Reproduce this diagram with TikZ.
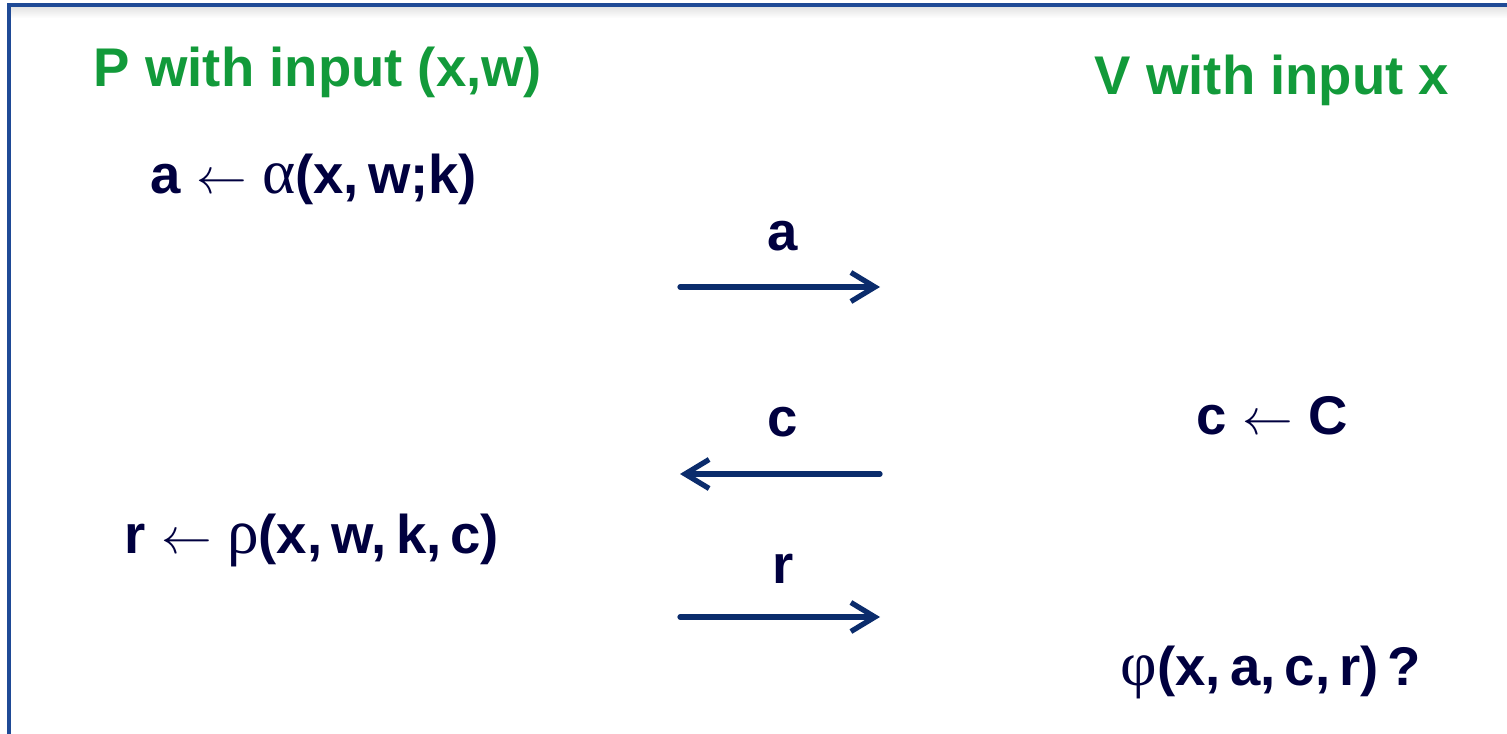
\documentclass[tikz,border=0pt]{standalone}
\usepackage{fontspec}
\setmainfont{Liberation Sans}
\newfontfamily\grk{Liberation Serif}
\usepackage{tikz}
\usetikzlibrary{arrows.meta,positioning}
\definecolor{proofgreen}{HTML}{129A3A}
\definecolor{msgnavy}{HTML}{00003F}
\definecolor{arrnavy}{HTML}{0B2C6C}
\definecolor{framblue}{HTML}{1F4A96}
\newcommand{\assign}{\hspace{0.28em}\(\leftarrow\)\hspace{0.28em}}
\newcommand{\gk}[1]{{\grk\mdseries\fontsize{18}{18}\selectfont #1}}

\begin{document}
\begin{tikzpicture}[x=0.01cm,y=-0.01cm,
  title/.style={anchor=base,inner sep=0pt,text=proofgreen,
    font=\fontsize{15.5}{18}\selectfont\bfseries},
  calc/.style={anchor=base,inner sep=0pt,text=msgnavy,
    font=\fontsize{15.5}{18}\selectfont\bfseries},
  msg/.style={-{Straight Barb[length=2.4mm,width=2.9mm]},line width=1.5pt,
    draw=arrnavy,line cap=round}]
\useasboundingbox (0,0) rectangle (1507,734);
% frame
\shade[top color=black!12,bottom color=white] (10,6) rectangle (1507,18);
\draw[framblue,line width=1.4pt] (9,734) -- (9,5) -- (1507,5);
% parties
\node[title] (prover) at (318,87) {P with input (x,w)};
\node[title] (verifier) at (1272,95) {V with input x};
% local steps
\node[calc] (commit) at (314,194) {a\assign\gk{α}(x,\,w;k)};
\node[calc] (chal) at (1272,435) {c\assign C};
\node[calc] (resp) at (312,553) {r\assign\gk{ρ}(x,\,w,\,k,\,c)};
\node[calc] (check) at (1271,685) {\gk{φ}(x,\,a,\,c,\,r)\,?};
% messages
\coordinate (a1) at (680,287);
\coordinate (a2) at (880,287);
\coordinate (c1) at (880,474);
\coordinate (c2) at (680,474);
\coordinate (r1) at (680,617);
\coordinate (r2) at (880,617);
\draw[msg] (a1) -- (a2);
\draw[msg] (c1) -- (c2);
\draw[msg] (r1) -- (r2);
\node[calc] (amsg) at (783,251) {a};
\node[calc] (cmsg) at (783,437) {c};
\node[calc] (rmsg) at (783,583) {r};
\end{tikzpicture}
\end{document}
